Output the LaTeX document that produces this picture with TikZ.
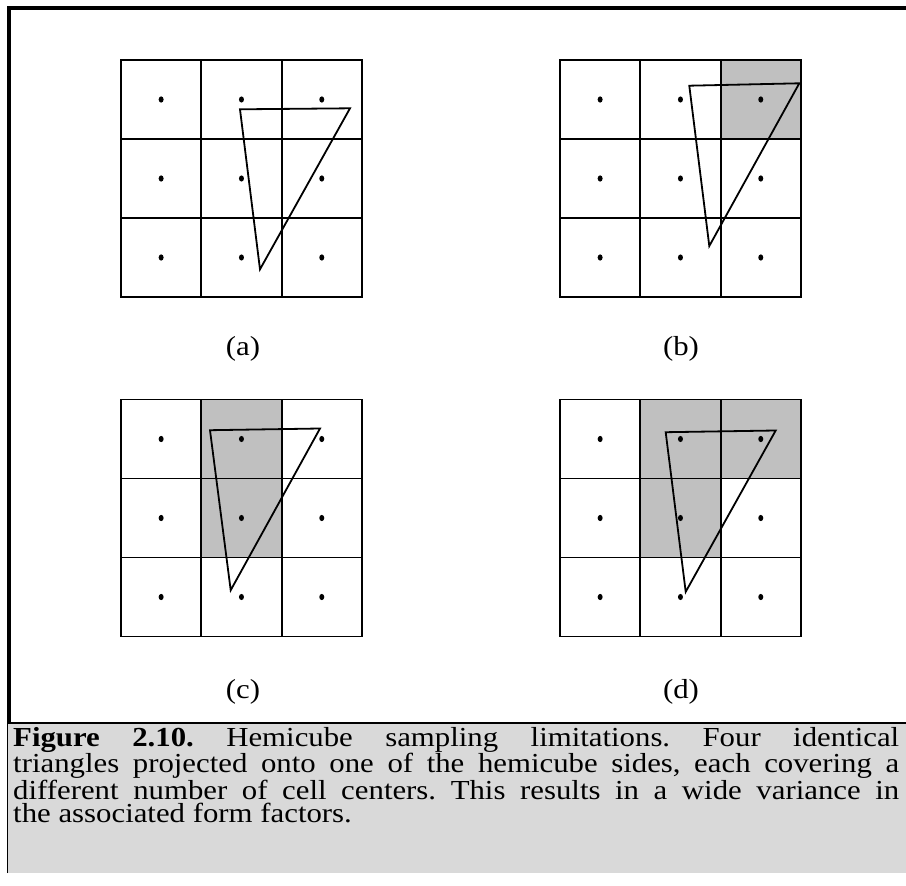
\documentclass[tikz,border=0pt]{standalone}
\usepackage{fontspec}
\setmainfont{Liberation Serif}[FakeStretch=1.12]
\usepackage{xcolor}
\usepackage{tikz}
\usetikzlibrary{shapes.geometric,positioning,calc}

\definecolor{hitgray}{RGB}{192,192,192}
\definecolor{capgray}{RGB}{217,217,217}

% one 3x3 sampling grid, shaded cells drawn before it
\newcommand{\hemigrid}[1]{%
  \foreach \k in {0,...,3} {
    \draw[cellgrid] (\k*80.33,0) -- (\k*80.33,237);
    \draw[cellgrid] (0,\k*79) -- (241,\k*79);
  }
  \foreach \r in {1,2,3}
    \foreach \c in {1,2,3}
      \node[ctr] (#1\r\c) at (\c*80.33-40.17,\r*79-39.5) {};
}

\begin{document}
\frenchspacing
\begin{tikzpicture}[x=1pt,y=-1pt,
  cellgrid/.style={line width=1.8pt, line cap=rect},
  hit/.style={fill=hitgray},
  tri/.style={line width=1.8pt, line join=miter},
  ctr/.style={ellipse, fill=black, inner sep=0pt, minimum width=5pt, minimum height=6.2pt},
  sublabel/.style={font=\fontsize{27.5}{27.5}\selectfont, inner sep=0pt},
  frame/.style={line width=4pt}
]
\useasboundingbox (0,0) rectangle (906,886);

% caption box
\fill[capgray] (7,723) rectangle (906,873);
\draw[line width=1pt] (7.5,873) -- (7.5,723);
\draw[line width=2pt] (7,723) -- (906,723);
\draw[frame] (9,723) -- (9,8) -- (906,8);

% (a) no cell covered
\begin{scope}[shift={(121,60)}]
  \hemigrid{a}
  \draw[tri] (119,49.3) -- (229,48.3) -- (139,209.3) -- cycle;
\end{scope}
\node[sublabel] (laba) at (243,349) {(a)};

% (b) one cell
\begin{scope}[shift={(560,60)}]
  \fill[hit] (160.66,0) rectangle (241,79);
  \hemigrid{b}
  \draw[tri] (129.3,25.7) -- (239.3,23.3) -- (149.3,186) -- cycle;
\end{scope}
\node[sublabel] (labb) at (681,349) {(b)};

% (c) two cells
\begin{scope}[shift={(121,399.5)}]
  \fill[hit] (80.33,0) rectangle (160.66,158);
  \hemigrid{c}
  \draw[tri] (89,30.7) -- (199,29) -- (109.7,190.7) -- cycle;
\end{scope}
\node[sublabel] (labc) at (243,692) {(c)};

% (d) three cells
\begin{scope}[shift={(560,399.5)}]
  \fill[hit] (80.33,0) rectangle (241,79);
  \fill[hit] (80.33,79) rectangle (160.66,158);
  \hemigrid{d}
  \draw[tri] (105.7,32.7) -- (215.7,31) -- (125.7,192.3) -- cycle;
\end{scope}
\node[sublabel] (labd) at (681,692) {(d)};

\node[anchor=north west, inner sep=0pt, text width=886pt, align=justify,
  font=\fontsize{27.5}{23.6}\selectfont] (caption) at (13,727)
  {\textbf{Figure 2.10.} Hemicube sampling limitations. Four identical\linebreak
   triangles projected onto one of the hemicube sides, each covering a\linebreak
   different number of cell centers. This results in a wide variance in\linebreak
   the associated form factors.};
\end{tikzpicture}
\end{document}
